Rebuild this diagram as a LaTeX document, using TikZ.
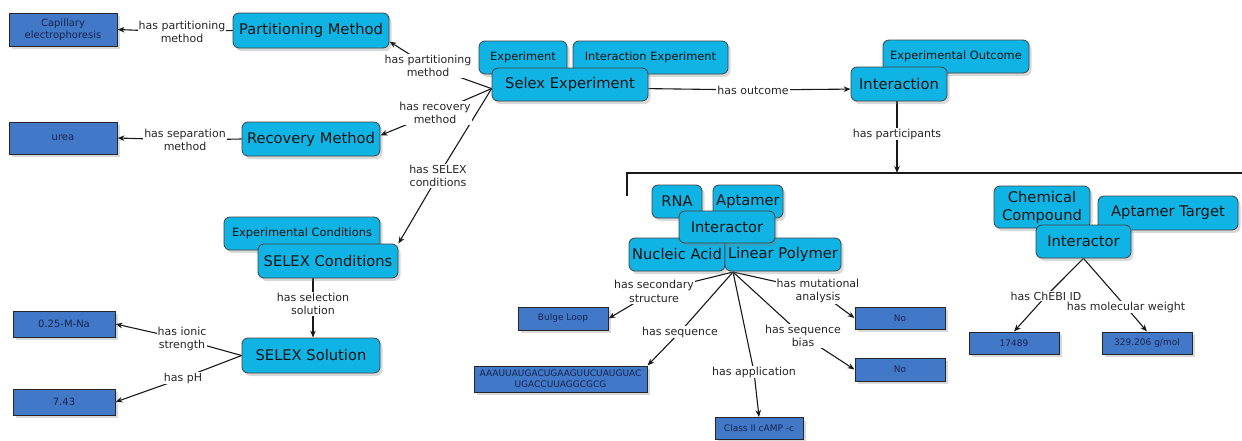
\documentclass[tikz,border=0pt]{standalone}
\usepackage{fontspec}
\setmainfont{DejaVu Sans}
\usetikzlibrary{shadows,backgrounds,arrows.meta}
\definecolor{cyanc}{RGB}{16,180,228}
\definecolor{darkb}{RGB}{65,120,200}
\definecolor{boxtxt}{RGB}{24,38,78}
\newcommand{\fbig}{\fontsize{14.7}{18}\selectfont}
\newcommand{\fsml}{\fontsize{11.4}{13}\selectfont}
\newcommand{\flab}{\fontsize{11}{13.5}\selectfont}
\newcommand{\fdarkl}{\fontsize{10}{12.3}\selectfont}
\newcommand{\fdarks}{\fontsize{9}{11}\selectfont}
\tikzset{
  wh/.style 2 args={minimum width=#1pt, minimum height=#2pt},
  cls/.style={draw=black!75, line width=0.8pt, fill=cyanc, rounded corners=6pt,
    inner sep=0pt, align=center, text=black!92,
    drop shadow={shadow xshift=2.5pt, shadow yshift=-3pt, opacity=.3}},
  big/.style={cls, font=\fbig},
  sml/.style={cls, font=\fsml},
  val/.style={draw=black!85, line width=1pt, fill=darkb, inner sep=0pt,
    align=center, text=boxtxt, font=\fdarks,
    drop shadow={shadow xshift=2.5pt, shadow yshift=-3pt, opacity=.3}},
  lab/.style={fill=white, inner sep=1pt, align=center, font=\flab, text=black!85},
  rel/.style={line width=1.1pt, draw=black!90, -{Stealth[length=7pt,width=5.5pt]}},
  plain/.style={line width=1.2pt, draw=black!90}
}
\begin{document}
\begin{tikzpicture}[x=1pt,y=-1pt]
\useasboundingbox (0,0) rectangle (1242,440);

% --- left column
\node[val, wh={108}{33}, font=\fdarkl] (cap) at (63,29.5) {Capillary\\electrophoresis};
\node[val, wh={108}{32}, font=\fdarkl] (urea) at (63,138) {urea};
\node[val, wh={102}{26}, font=\fdarkl] (na) at (64,324) {0.25-M-Na};
\node[val, wh={102}{26}, font=\fdarkl] (ph) at (64,402) {7.43};

\node[big, wh={156}{35}] (pm) at (311,30.5) {Partitioning Method};
\node[big, wh={138}{34}] (rm) at (311,139) {Recovery Method};
\node[sml, wh={156}{33}] (ec) at (302,233.5) {Experimental Conditions};
\node[big, wh={140}{34}] (sc) at (328,261) {SELEX Conditions};
\node[big, wh={138}{35}] (sol) at (311,355.5) {SELEX Solution};

% --- experiment
\node[sml, wh={88}{33}] (exp) at (523,57.5) {Experiment};
\node[sml, wh={155}{33}] (iexp) at (650.5,57.5) {Interaction Experiment};
\node[big, wh={156}{33}] (selex) at (570,84.5) {Selex Experiment};

\node[sml, wh={146}{33}] (eo) at (956,56.5) {Experimental Outcome};
\node[big, wh={96}{34}] (int) at (899,84) {Interaction};

% --- RNA interactor
\node[big, wh={50}{33}] (rna) at (677,201.5) {RNA};
\node[big, wh={70}{33}] (apt) at (748,201.5) {Aptamer};
\node[big, wh={96}{33}] (na2) at (677,254.5) {Nucleic Acid};
\node[big, wh={116}{33}] (lp) at (783,254.5) {Linear Polymer};
\node[big, wh={96}{32}] (i1) at (727,227) {Interactor};
\coordinate (hub) at (733,272);

\node[val, wh={90}{23}] (bulge) at (563,318.5) {Bulge Loop};
\node[val, wh={173}{26}] (seq) at (560.5,379) {AAAUUAUGACUGAAGUUCUAUGUAC\\UGACCUUAGGCGCG};
\node[val, wh={88}{22}] (cls) at (759,428.5) {Class II cAMP -c};
\node[val, wh={90}{22}] (no1) at (900,318) {No};
\node[val, wh={90}{23}] (no2) at (900,369.5) {No};

% --- chemical interactor
\node[big, wh={96}{42}] (chem) at (1042,207) {Chemical\\Compound};
\node[big, wh={140}{34}] (atg) at (1168,213) {Aptamer Target};
\node[big, wh={95}{33}] (i2) at (1083.5,241.5) {Interactor};
\node[val, wh={90}{22}] (cheb) at (1014,343) {17489};
\node[val, wh={90}{22}] (mw) at (1147,343) {329.206 g/mol};

% --- bracket
\coordinate (bl) at (627,196);
\coordinate (bt) at (627,173);
\coordinate (br) at (1242,173);
\coordinate (brk) at (897,173);
\draw[plain] (bl) -- (bt) -- (br);

% --- labels
\node[lab] (l1) at (428,66) {has partitioning\\method};
\node[lab] (l2) at (435,113) {has recovery\\method};
\node[lab] (l3) at (438,176) {has SELEX\\conditions};
\node[lab] (l4) at (182,32) {has partitioning\\method};
\node[lab] (l5) at (185,140) {has separation\\method};
\node[lab] (l6) at (313,304) {has selection\\solution};
\node[lab] (l7) at (182,339) {has ionic\\strength};
\node[lab] (l8) at (183,378) {has pH};
\node[lab] (l9) at (753,90) {has outcome};
\node[lab] (l10) at (897,134) {has participants};
\node[lab] (l11) at (654,291.5) {has secondary\\structure};
\node[lab] (l12) at (680,332) {has sequence};
\node[lab] (l13) at (754,372) {has application};
\node[lab] (l14) at (818,291) {has mutational\\analysis};
\node[lab] (l15) at (803,336) {has sequence\\bias};
\node[lab] (l16) at (1046,296) {has ChEBI ID};
\node[lab] (l17) at (1126,307) {has molecular weight};

% --- connectors
\begin{pgfonlayer}{background}
\draw[rel] (selex.183) -- (l1.center) -- (pm.-8);
\draw[rel] (selex.183) -- (l2.center) -- (rm.3);
\draw[rel] (selex.183) -- (l3.center) -- (sc.north east);
\draw[rel] (pm.west) -- (l4.center) -- (cap.east);
\draw[rel] (rm.west) -- (l5.center) -- (urea.east);
\draw[rel] (sc.south -| l6) -- (l6.center) -- (sol.north -| l6);
\draw[rel] (sol.west) -- (l7.center) -- (na.east);
\draw[rel] (sol.west) -- (l8.center) -- (ph.east);
\draw[rel] (selex.-3) -- (l9.center) -- (int.186);
\draw[rel] (int.south -| l10) -- (l10.center) -- (brk);
\draw[rel] (hub) -- (l11.center) -- (bulge.east);
\draw[rel] (hub) -- (l12.center) -- (seq.north east);
\draw[rel] (hub) -- (l13.center) -- (cls.north);
\draw[rel] (hub) -- (l14.center) -- (no1.west);
\draw[rel] (hub) -- (l15.center) -- (no2.west);
\draw[rel] (i2.south) -- (l16.center) -- (cheb.north);
\draw[rel] (i2.south) -- (l17.center) -- (mw.north);
\end{pgfonlayer}
\end{tikzpicture}
\end{document}
